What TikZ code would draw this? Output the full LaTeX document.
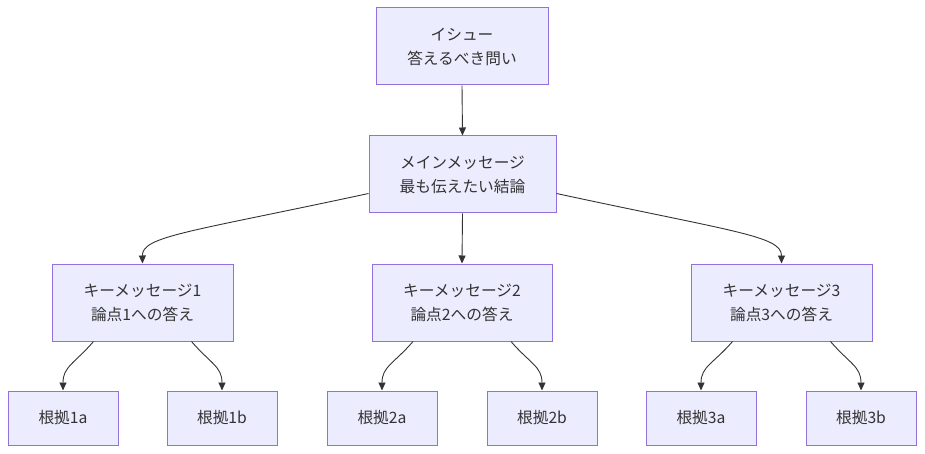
\documentclass[tikz,border=0pt]{standalone}
\usepackage{fontspec}
\setmainfont{Noto Sans CJK JP}
\usetikzlibrary{arrows.meta}
\definecolor{boxfill}{HTML}{ECECFF}
\definecolor{boxline}{HTML}{9370DB}
\definecolor{ink}{HTML}{333333}
\begin{document}
\begin{tikzpicture}[x=1pt,y=-1pt,
  box/.style={draw=boxline, fill=boxfill, line width=1pt, inner sep=0pt, align=center,
    text=ink, font=\fontsize{15.7}{24}\selectfont},
  bigbox/.style={box, minimum height=77pt},
  leafbox/.style={box, minimum width=110pt, minimum height=54pt},
  conn/.style={draw=ink, line width=0.9pt, -{Triangle[length=8pt,width=7pt]}}]
\useasboundingbox (0,0) rectangle (925,454);
\node[bigbox, minimum width=172pt] (issue) at (462,46.5) {イシュー\\答えるべき問い};
\node[bigbox, minimum width=187pt] (main) at (462.5,174.5) {メインメッセージ\\最も伝えたい結論};
\node[bigbox, minimum width=181pt] (k1) at (142.5,302.5) {キーメッセージ1\\論点1への答え};
\node[bigbox, minimum width=180pt] (k2) at (462,302.5) {キーメッセージ2\\論点2への答え};
\node[bigbox, minimum width=181pt] (k3) at (781.5,302.5) {キーメッセージ3\\論点3への答え};
\node[leafbox] (l1a) at (63,418) {根拠1a};
\node[leafbox] (l1b) at (222,418) {根拠1b};
\node[leafbox] (l2a) at (382,418) {根拠2a};
\node[leafbox] (l2b) at (542,418) {根拠2b};
\node[leafbox] (l3a) at (701,418) {根拠3a};
\node[leafbox] (l3b) at (861,418) {根拠3b};
\draw[conn] (issue.south) -- (main.north);
\draw[conn] (main.south) -- (k2.north);
\draw[conn] ([yshift=-19pt]main.west) .. controls (190,232) and (142,236) .. (k1.north);
\draw[conn] ([yshift=-19pt]main.east) .. controls (735,232) and (781.5,236) .. (k3.north);
\foreach \k/\a/\b in {k1/l1a/l1b, k2/l2a/l2b, k3/l3a/l3b}{
  \draw[conn] ([xshift=-49pt]\k.south) .. controls ([xshift=-68pt,yshift=-22pt]\k.south) and ([yshift=24pt]\a.north) .. (\a.north);
  \draw[conn] ([xshift=49pt]\k.south) .. controls ([xshift=68pt,yshift=-22pt]\k.south) and ([yshift=24pt]\b.north) .. (\b.north);
}
\end{tikzpicture}
\end{document}
